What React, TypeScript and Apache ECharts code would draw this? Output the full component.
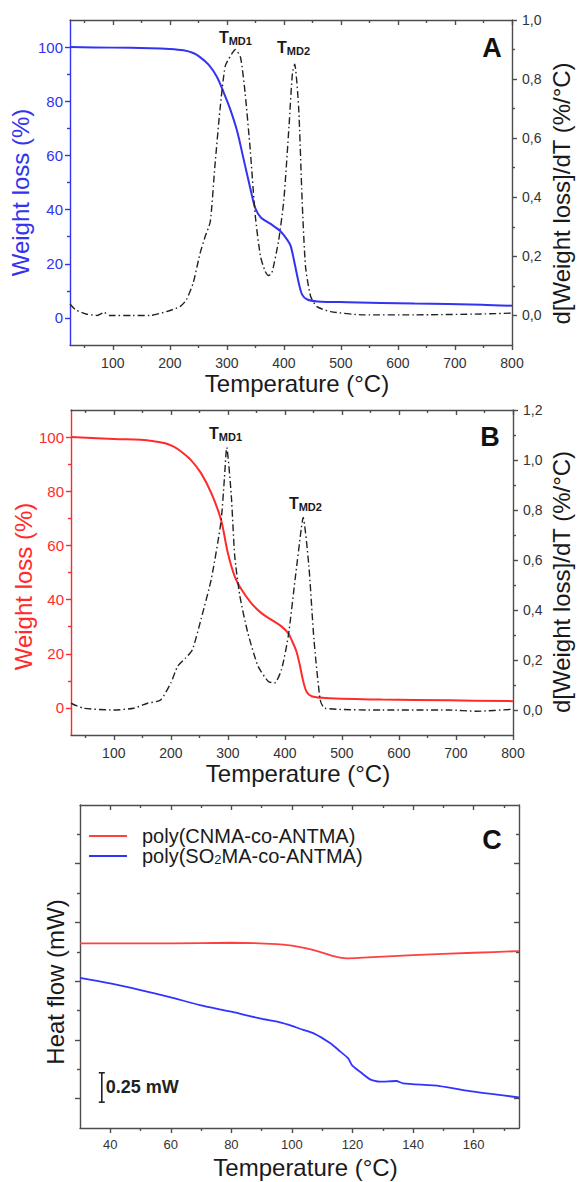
import React, { useEffect, useRef } from 'react';
import * as echarts from 'echarts';

const FONT = '"Liberation Sans", Arial, Helvetica, sans-serif';
const BLUE = '#3333f0';
const RED = '#ff2b2b';
const FRAME = '#4d4d4d';
const INK = '#1a1a1a';
const LABEL = '#333333';

// ---------- Panel A (TGA, blue) ----------
const weightLossA = [
  [25, 100], [100, 99.8], [165, 99.6], [200, 99.3], [224, 98.8], [241, 97.8], [253, 96.3],
  [268, 93.5], [282, 89.2], [294, 83.5], [306, 77], [318, 69], [329, 59], [341, 48], [350, 40.5],
  [360, 37], [376, 34.8], [394, 32], [406, 28.8], [412, 26.5], [420, 19], [426, 13], [432, 8.6],
  [441, 6.8], [459, 6.1], [512, 5.8], [629, 5.3], [747, 4.9], [800, 4.5],
];
const derivA = [
  [25, 0.039], [35, 0.019], [53, 0.005], [73, 0.0], [85, 0.01], [94, 0.0], [135, 0.0], [165, 0.0],
  [194, 0.013], [218, 0.03], [229, 0.053], [241, 0.11], [253, 0.21], [262, 0.267], [271, 0.318],
  [279, 0.504], [288, 0.697], [297, 0.843], [306, 0.877], [315, 0.9], [324, 0.873], [332, 0.754],
  [341, 0.561], [350, 0.335], [359, 0.2], [367, 0.15], [373, 0.135], [379, 0.144], [391, 0.256],
  [400, 0.392], [409, 0.64], [415, 0.82], [419, 0.85], [426, 0.7], [432, 0.39], [438, 0.165],
  [447, 0.064], [458, 0.03], [482, 0.013], [540, 0.002], [629, 0.002], [747, 0.005], [800, 0.008],
];
const peaksA = [
  { name: 'MD1', at: [315, 0.9], gap: 3 },
  { name: 'MD2', at: [417, 0.85], gap: 7 },
];

// ---------- Panel B (TGA, red) ----------
const weightLossB = [
  [25, 100], [100, 99.3], [147, 99], [170, 98.5], [190, 97.7], [205, 96.5], [218, 94.7], [235, 91.6],
  [253, 86.7], [271, 79.3], [288, 69.5], [300, 57.2], [312, 48.6], [324, 43.7], [341, 38.7], [359, 35],
  [376, 32.6], [394, 30.1], [406, 27.5], [412, 25], [420, 21], [426, 16], [432, 10], [438, 6],
  [447, 4.3], [470, 3.7], [570, 3.1], [688, 2.8], [800, 2.5],
];
const derivB = [
  [25, 0.027], [47, 0.007], [100, 0.0], [135, 0.007], [159, 0.027], [182, 0.04], [200, 0.108],
  [212, 0.175], [226, 0.208], [238, 0.242], [253, 0.363], [271, 0.524], [288, 0.753], [294, 0.927],
  [298, 1.05], [306, 0.86], [312, 0.618], [321, 0.457], [335, 0.309], [353, 0.175], [371, 0.114],
  [382, 0.108], [394, 0.161], [406, 0.296], [418, 0.524], [429, 0.73], [432, 0.77], [442, 0.578],
  [451, 0.282], [462, 0.04], [470, 0.007], [570, 0.0], [688, 0.0], [735, -0.005], [800, 0.003],
];
const peaksB = [
  { name: 'MD1', at: [296, 1.05], gap: 5 },
  { name: 'MD2', at: [436, 0.77], gap: 5 },
];

// ---------- Panel C (DSC) ----------
const dscNames = ['poly(CNMA-co-ANTMA)', 'poly(SO2MA-co-ANTMA)'];
const heatFlowCNMA = [
  [30, 1.322], [40, 1.322], [60, 1.322], [80, 1.327], [95, 1.316], [100, 1.302], [104.8, 1.279],
  [109.2, 1.25], [113.6, 1.214], [118, 1.194], [123.5, 1.2], [140, 1.222], [160, 1.242], [175, 1.256],
];
const heatFlowSO2MA = [
  [30, 1.029], [40, 0.981], [50, 0.924], [60, 0.862], [69.6, 0.797], [80, 0.74], [89.4, 0.683],
  [96, 0.65], [100, 0.62], [102.6, 0.595], [107.2, 0.556], [112.7, 0.471], [116, 0.4], [118.6, 0.343],
  [119.8, 0.286], [122.5, 0.229], [125.8, 0.164], [129, 0.144], [134.5, 0.15], [136.7, 0.13],
  [148.8, 0.107], [160, 0.059], [175, 0.011],
];
const scaleBarC = [[37.2, -0.03, 0.22]];
const scaleBarText = '0.25 mW';

// ---------- Ticks ----------
const tgaTempTicks = [100, 200, 300, 400, 500, 600, 700, 800];
const tgaTempMinor = [50, 150, 250, 350, 450, 550, 650, 750];
const weightTicks = [0, 20, 40, 60, 80, 100];
const weightMinor = [10, 30, 50, 70, 90];
const derivTicksA = [0, 0.2, 0.4, 0.6, 0.8, 1.0];
const derivMinorA = [0.1, 0.3, 0.5, 0.7, 0.9];
const derivTicksB = [0, 0.2, 0.4, 0.6, 0.8, 1.0, 1.2];
const derivMinorB = [0.1, 0.3, 0.5, 0.7, 0.9, 1.1];
const dscTempTicks = [40, 60, 80, 100, 120, 140, 160];
const dscTempMinor = [50, 70, 90, 110, 130, 150, 170];
const heatTicks = [0, 0.5, 1.0, 1.5, 2.0];
const heatMinor = [0.25, 0.75, 1.25, 1.75, 2.25];

const comma = (v: number) => v.toFixed(1).replace('.', ',');

type Side = 'left' | 'right' | 'top' | 'bottom';
interface AxisSpec {
  grid: number; side: Side; min: number; max: number; major: number[]; minor: number[];
  color: string; inside: boolean;
  label?: { color: string; size: number; margin: number; fmt?: (v: number) => string };
  name?: { text: string; gap: number; color: string; size: number; padding: number[]; rotate?: number };
}

function buildAxes(s: AxisSpec) {
  const line = { color: s.color, width: 1.4 };
  const main: any = {
    type: 'value', gridIndex: s.grid, position: s.side, min: s.min, max: s.max, offset: 0,
    axisLine: { show: true, onZero: false, lineStyle: line },
    axisTick: { show: true, inside: s.inside, length: 5, customValues: s.major, lineStyle: line },
    axisLabel: { show: false },
    splitLine: { show: false },
    minorTick: { show: false },
  };
  if (s.label) {
    main.axisLabel = {
      show: true, customValues: s.major, color: s.label.color, fontSize: s.label.size,
      fontFamily: FONT, margin: s.label.margin,
    };
    if (s.label.fmt) main.axisLabel.formatter = s.label.fmt;
  }
  if (s.name) {
    main.name = s.name.text;
    main.nameLocation = 'middle';
    main.nameGap = s.name.gap;
    main.nameMoveOverlap = false;
    if (s.name.rotate !== undefined) main.nameRotate = s.name.rotate;
    main.nameTextStyle = {
      color: s.name.color, fontSize: s.name.size, fontFamily: FONT, padding: s.name.padding,
      lineHeight: 22,
    };
  }
  const minor: any = {
    type: 'value', gridIndex: s.grid, position: s.side, min: s.min, max: s.max, offset: 0,
    axisLine: { show: false, onZero: false },
    axisTick: { show: true, inside: s.inside, length: 3, customValues: s.minor, lineStyle: line },
    axisLabel: { show: false },
    splitLine: { show: false },
  };
  return [main, minor];
}

function buildOption() {
  const xAxis: any[] = [];
  const yAxis: any[] = [];
  const addX = (s: AxisSpec) => { const i = xAxis.length; xAxis.push(...buildAxes(s)); return i; };
  const addY = (s: AxisSpec) => { const i = yAxis.length; yAxis.push(...buildAxes(s)); return i; };

  const tempName = (gap: number) => ({ text: 'Temperature (°C)', gap, color: INK, size: 24, padding: [0, 0, 0, 12] });

  // Panel A
  const ax = addX({ grid: 0, side: 'bottom', min: 25, max: 800, major: tgaTempTicks, minor: tgaTempMinor, color: FRAME, inside: false, label: { color: LABEL, size: 14, margin: 11 }, name: tempName(27) });
  addX({ grid: 0, side: 'top', min: 25, max: 800, major: tgaTempTicks, minor: tgaTempMinor, color: FRAME, inside: true });
  const ayW = addY({ grid: 0, side: 'left', min: -10, max: 110, major: weightTicks, minor: weightMinor, color: BLUE, inside: false, label: { color: BLUE, size: 15, margin: 7 }, name: { text: 'Weight loss (%)', gap: 39, color: BLUE, size: 24, padding: [0, 20, 0, 0], rotate: 90 } });
  const ayD = addY({ grid: 0, side: 'right', min: -0.1, max: 1.0, major: derivTicksA, minor: derivMinorA, color: FRAME, inside: false, label: { color: LABEL, size: 14, margin: 10, fmt: comma }, name: { text: 'd[Weight loss]/dT (%/°C)', gap: 38, color: INK, size: 24, padding: [0, 22, 0, 0], rotate: 90 } });

  // Panel B
  const bx = addX({ grid: 1, side: 'bottom', min: 25, max: 800, major: tgaTempTicks, minor: tgaTempMinor, color: FRAME, inside: false, label: { color: LABEL, size: 14, margin: 11 }, name: tempName(27) });
  addX({ grid: 1, side: 'top', min: 25, max: 800, major: tgaTempTicks, minor: tgaTempMinor, color: FRAME, inside: true });
  const byW = addY({ grid: 1, side: 'left', min: -10, max: 110, major: weightTicks, minor: weightMinor, color: RED, inside: false, label: { color: RED, size: 15, margin: 7 }, name: { text: 'Weight loss (%)', gap: 37, color: RED, size: 24, padding: [0, 28, 0, 0], rotate: 90 } });
  const byD = addY({ grid: 1, side: 'right', min: -0.1, max: 1.2, major: derivTicksB, minor: derivMinorB, color: FRAME, inside: false, label: { color: LABEL, size: 14, margin: 10, fmt: comma }, name: { text: 'd[Weight loss]/dT (%/°C)', gap: 37, color: INK, size: 24, padding: [0, 19, 0, 0], rotate: 90 } });

  // Panel C
  const cx = addX({ grid: 2, side: 'bottom', min: 30, max: 175, major: dscTempTicks, minor: dscTempMinor, color: FRAME, inside: false, label: { color: LABEL, size: 13, margin: 10 }, name: tempName(28) });
  addX({ grid: 2, side: 'top', min: 30, max: 175, major: dscTempTicks, minor: dscTempMinor, color: FRAME, inside: true });
  const cy = addY({ grid: 2, side: 'left', min: -0.25, max: 2.5, major: heatTicks, minor: heatMinor, color: FRAME, inside: false, name: { text: 'Heat flow (mW)', gap: 14, color: INK, size: 24, padding: [0, 31, 0, 0], rotate: 90 } });
  addY({ grid: 2, side: 'right', min: -0.25, max: 2.5, major: heatTicks, minor: heatMinor, color: FRAME, inside: true });

  const rich = {
    t: { fontSize: 16, fontWeight: 'bold', lineHeight: 18, color: INK, fontFamily: FONT },
    s: { fontSize: 11, fontWeight: 'bold', lineHeight: 10, verticalAlign: 'bottom', color: INK, fontFamily: FONT },
  };
  const peakMarks = (peaks: { name: string; at: number[]; gap: number }[]) => ({
    symbol: 'circle', symbolSize: 1, silent: true,
    itemStyle: { color: 'rgba(0,0,0,0)' },
    data: peaks.map((p) => ({
      coord: p.at,
      label: { show: true, position: 'top', distance: p.gap, formatter: `{t|T}{s|${p.name}}`, rich },
    })),
  });
  const dashDot = { color: '#222', width: 1.4, type: [7, 3, 1.5, 3] };

  const series: any[] = [
    { type: 'line', name: 'Weight loss A', xAxisIndex: ax, yAxisIndex: ayW, data: weightLossA, symbol: 'none', smooth: 0.3, lineStyle: { color: BLUE, width: 2 } },
    { type: 'line', name: 'dW/dT A', xAxisIndex: ax, yAxisIndex: ayD, data: derivA, symbol: 'none', smooth: 0.2, lineStyle: dashDot, markPoint: peakMarks(peaksA) },
    { type: 'line', name: 'Weight loss B', xAxisIndex: bx, yAxisIndex: byW, data: weightLossB, symbol: 'none', smooth: 0.35, lineStyle: { color: RED, width: 2 } },
    { type: 'line', name: 'dW/dT B', xAxisIndex: bx, yAxisIndex: byD, data: derivB, symbol: 'none', smooth: 0.2, lineStyle: dashDot, markPoint: peakMarks(peaksB) },
    { type: 'line', name: dscNames[0], xAxisIndex: cx, yAxisIndex: cy, data: heatFlowCNMA, symbol: 'none', smooth: 0.3, lineStyle: { color: '#ff4040', width: 1.8 }, itemStyle: { color: '#ff4040' } },
    { type: 'line', name: dscNames[1], xAxisIndex: cx, yAxisIndex: cy, data: heatFlowSO2MA, symbol: 'none', smooth: 0.2, lineStyle: { color: '#3333ff', width: 1.8 }, itemStyle: { color: '#3333ff' } },
    {
      type: 'custom', name: 'scale bar', xAxisIndex: cx, yAxisIndex: cy, silent: true, data: scaleBarC,
      renderItem: (_p: any, api: any) => {
        const x = api.value(0);
        const a = api.coord([x, api.value(1)]);
        const b = api.coord([x, api.value(2)]);
        const st = { stroke: '#222', lineWidth: 1.6 };
        return {
          type: 'group',
          children: [
            { type: 'line', shape: { x1: a[0], y1: a[1], x2: b[0], y2: b[1] }, style: st },
            { type: 'line', shape: { x1: a[0] - 3, y1: a[1], x2: a[0] + 3, y2: a[1] }, style: st },
            { type: 'line', shape: { x1: b[0] - 3, y1: b[1], x2: b[0] + 3, y2: b[1] }, style: st },
            { type: 'text', style: { text: scaleBarText, x: a[0] + 4, y: (a[1] + b[1]) / 2, font: `bold 18px ${FONT}`, fill: '#222', align: 'left', verticalAlign: 'middle' } },
          ],
        };
      },
    },
  ];

  const letter = (t: string, x: number, y: number) => ({
    type: 'text', x, y, silent: true,
    style: { text: t, font: `bold 27px ${FONT}`, fill: '#111', align: 'center', verticalAlign: 'middle' },
  });

  return {
    animation: false,
    backgroundColor: '#ffffff',
    grid: [
      { left: 70, top: 20, width: 442, height: 325, containLabel: false, outerBoundsMode: 'none' },
      { left: 71, top: 410, width: 442, height: 325, containLabel: false, outerBoundsMode: 'none' },
      { left: 80, top: 805, width: 439, height: 323, containLabel: false, outerBoundsMode: 'none' },
    ],
    xAxis,
    yAxis,
    legend: {
      show: true, orient: 'vertical', left: 89, top: 826, padding: 0, itemGap: 0,
      icon: 'rect', itemWidth: 38, itemHeight: 2, selectedMode: false, data: dscNames,
      formatter: (n: string) => (n.indexOf('SO2') >= 0 ? '{a|poly(SO}{b|2}{a|MA-co-ANTMA)}' : `{a|${n}}`),
      textStyle: {
        fontSize: 20, fontFamily: FONT, color: INK, padding: [0, 0, 0, 10],
        rich: {
          a: { fontSize: 20, lineHeight: 20, fontFamily: FONT, color: INK },
          b: { fontSize: 13, lineHeight: 10, verticalAlign: 'bottom', fontFamily: FONT, color: INK },
        },
      },
    },
    graphic: [letter('A', 492, 48), letter('B', 490, 437), letter('C', 492, 840)],
    series,
  };
}

export default function App() {
  const ref = useRef<HTMLDivElement>(null);
  useEffect(() => {
    document.body.style.margin = '0';
    if (!ref.current) return;
    const chart = echarts.init(ref.current, undefined, { renderer: 'svg' });
    chart.setOption(buildOption() as any);
    return () => chart.dispose();
  }, []);
  return <div ref={ref} style={{ width: 577, height: 1182, background: '#fff' }} />;
}
